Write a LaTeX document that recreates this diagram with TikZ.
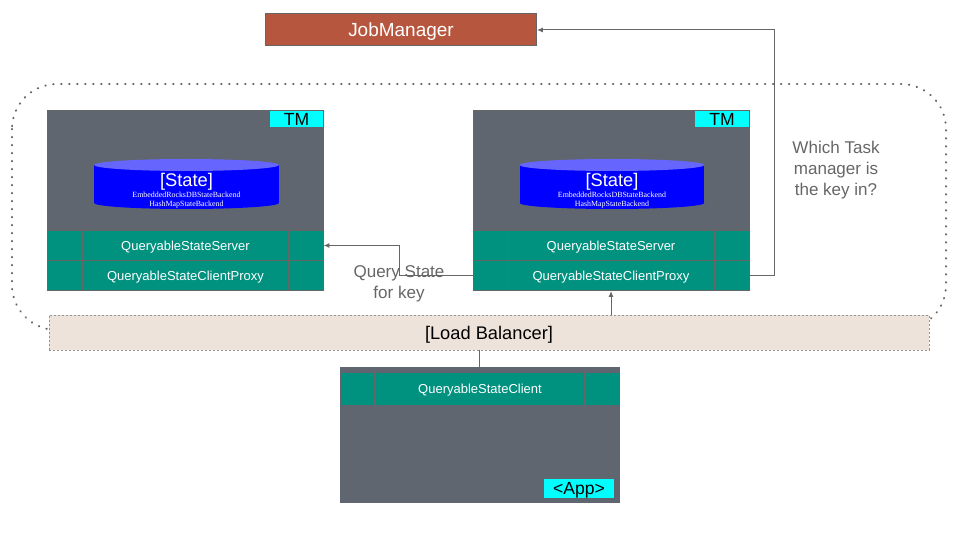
\documentclass[tikz,border=0pt]{standalone}
\usepackage{fontspec}
\setmainfont{Liberation Sans}
\newfontfamily\smallserif{Liberation Serif}
\usetikzlibrary{shapes.geometric,arrows.meta}
\definecolor{boxgray}{HTML}{5F6670}
\definecolor{linegray}{HTML}{666666}
\definecolor{cellteal}{HTML}{00917F}
\definecolor{jobbrown}{HTML}{B7563F}
\definecolor{lbbeige}{HTML}{EEE3DA}
\definecolor{statetop}{HTML}{6666FF}
\definecolor{tagcyan}{HTML}{00FFFF}
\tikzset{
  box/.style={draw=linegray,fill=boxgray,line width=.02cm,rectangle,outer sep=0pt,inner sep=0pt},
  cell/.style={draw=linegray,fill=cellteal,text=white,line width=.02cm,rectangle,outer sep=0pt,inner sep=0pt,minimum height=.6cm,text depth=0pt,font=\fontsize{7.4}{9}\selectfont},
  cellsep/.style={fill=linegray,rectangle,inner sep=0pt,outer sep=0pt,minimum width=.024cm,minimum height=.64cm},
  badge/.style={fill=tagcyan,text=black,rectangle,inner sep=0pt,minimum height=.32cm,text depth=0pt,font=\fontsize{10}{12}\selectfont},
  dbend/.style={ellipse,fill=blue,outer sep=0pt,inner sep=0pt,minimum width=3.7cm,minimum height=.24cm},
  dbbody/.style={rectangle,fill=blue,outer sep=0pt,inner sep=0pt,minimum width=3.7cm,minimum height=.76cm},
  note/.style={text=linegray,align=center,font=\fontsize{9.7}{12}\selectfont},
  conn/.style={draw=linegray,line width=.02cm},
  tip/.style={-{Latex[length=.12cm,width=.1cm]}}
}
\begin{document}
\begin{tikzpicture}[x=.02cm,y=-.02cm]
\useasboundingbox (0,0) rectangle (960,540);
\draw[linegray,line width=.04cm,line cap=round,dash pattern=on .01cm off .15cm,rounded corners=.9cm] (12,84) rectangle (946,330);
\node[box,fill=jobbrown,minimum width=5.44cm,minimum height=.64cm,text=white,text depth=0pt,font=\fontsize{10.8}{12}\selectfont] (job) at (401,30) {JobManager};
% left task manager
\node[box,minimum width=5.54cm,minimum height=3.62cm] (tmA) at (185.5,200.5) {};
\node[badge,minimum width=1.06cm] (tagA) at (296.5,119) {TM};
\node[dbend] (dbAb) at (186.5,203) {};
\node[dbbody] (dbA) at (186.5,184) {};
\node[dbend,fill=statetop] (dbAt) at (186.5,165) {};
\node[text=white,font=\fontsize{10.4}{12}\selectfont] (stateA) at (186.5,182) {[State]};
\node[text=white,align=center,font=\smallserif\fontsize{4.5}{4.7}\selectfont] (kindA) at (186.5,200) {EmbeddedRocksDBStateBackend\\HashMapStateBackend};
\node[cell,minimum width=.7cm] (srvAl) at (64.5,245.5) {};
\node[cell,minimum width=4.14cm] (srvA) at (185.5,245.5) {QueryableStateServer};
\node[cell,minimum width=.68cm] (srvAr) at (306.5,245.5) {};
\node[cell,minimum width=.7cm] (prxAl) at (64.5,275.5) {};
\node[cell,minimum width=4.14cm] (prxA) at (185.5,275.5) {QueryableStateClientProxy};
\node[cell,minimum width=.68cm] (prxAr) at (306.5,275.5) {};
% right task manager
\node[box,minimum width=5.54cm,minimum height=3.62cm] (tmB) at (611.5,200.5) {};
\node[badge,minimum width=1.08cm] (tagB) at (722,119) {TM};
\node[dbend] (dbBb) at (612,203) {};
\node[dbbody] (dbB) at (612,184) {};
\node[dbend,fill=statetop] (dbBt) at (612,165) {};
\node[text=white,font=\fontsize{10.4}{12}\selectfont] (stateB) at (612,182) {[State]};
\node[text=white,align=center,font=\smallserif\fontsize{4.5}{4.7}\selectfont] (kindB) at (612,200) {EmbeddedRocksDBStateBackend\\HashMapStateBackend};
\node[cell,minimum width=.68cm] (srvBl) at (490.5,245.5) {};
\node[cell,minimum width=4.16cm] (srvB) at (611,245.5) {QueryableStateServer};
\node[cell,minimum width=.68cm] (srvBr) at (732.5,245.5) {};
\node[cell,minimum width=.68cm] (prxBl) at (490.5,275.5) {};
\node[cell,minimum width=4.16cm] (prxB) at (611,275.5) {QueryableStateClientProxy};
\node[cell,minimum width=.68cm] (prxBr) at (732.5,275.5) {};
% app
\node[box,draw=none,minimum width=5.6cm,minimum height=2.72cm] (app) at (480,435) {};
\node[cell,draw=none,minimum width=5.56cm,minimum height=.64cm] (cli) at (480,389) {QueryableStateClient};
\node[cellsep] (cliSepL) at (375,389) {};
\node[cellsep] (cliSepR) at (585,389) {};
\node[badge,minimum width=1.4cm,minimum height=.38cm] (tagApp) at (579,488.5) {<App>};
\node[draw=linegray!70,dash pattern=on .04cm off .04cm,line width=.012cm,fill=lbbeige,rectangle,outer sep=0pt,text depth=0pt,minimum width=17.6cm,minimum height=.7cm,font=\fontsize{10.4}{12}\selectfont] (lb) at (489,332.5) {[Load Balancer]};
\coordinate (lbUp) at (611,315);
\coordinate (lbDown) at (479,350);
\coordinate (prxBin) at (611,291);
\coordinate (cliTop) at (479,367);
\draw[conn,tip] (prxBl.west) -- (399,275.5) |- (srvAr.east);
\draw[conn,tip] (prxBr.east) -- (774,275.5) |- (job.east);
\draw[conn,tip] (lbUp) -- (prxBin);
\draw[conn] (lbDown) -- (cliTop);
\node[note] (ask) at (399,283.5) {Query State\\for key};
\node[note] (which) at (836,170) {Which Task\\manager is\\the key in?};
\end{tikzpicture}
\end{document}
